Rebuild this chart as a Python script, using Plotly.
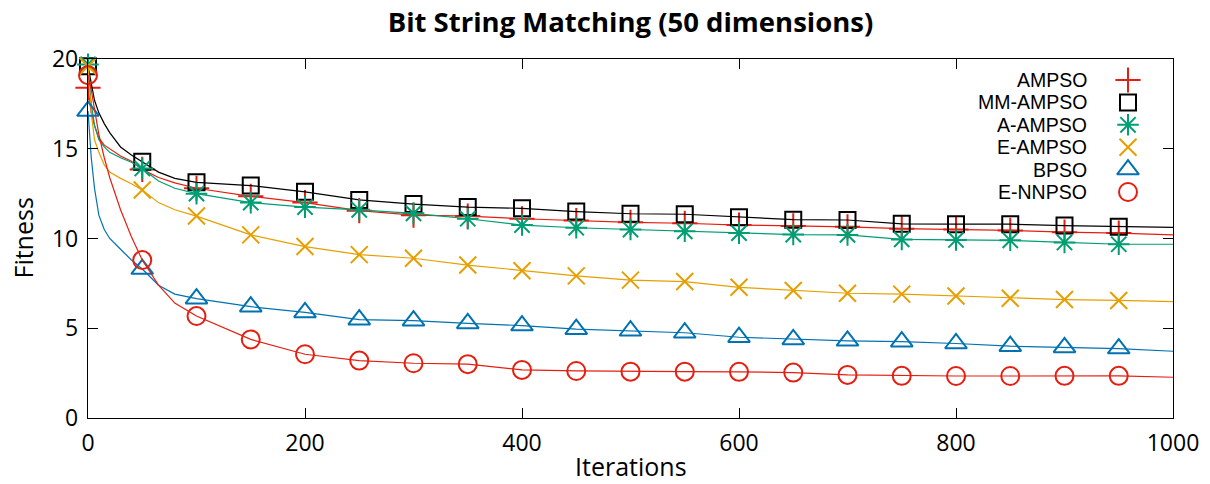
import plotly.graph_objects as go

# Iterations at which the averaged fitness was recorded
iterations = [0, 3, 6, 10, 15, 20, 30, 40, 50, 65, 80, 100, 150, 200, 250, 300,
              350, 400, 450, 500, 550, 600, 650, 700, 750, 800, 850, 900, 950, 1000]

ampso = [18.4, 17.0, 16.3, 15.6, 15.2, 15.0, 14.6, 14.3, 13.85, 13.4, 13.1, 12.8,
         12.35, 12.0, 11.55, 11.3, 11.25, 11.1, 11.0, 10.9, 10.85, 10.75, 10.7,
         10.65, 10.55, 10.5, 10.45, 10.35, 10.3, 10.2]
mm_ampso = [19.6, 18.6, 17.7, 17.0, 16.4, 15.9, 15.1, 14.65, 14.28, 13.7, 13.35, 13.13,
            12.95, 12.6, 12.15, 11.92, 11.75, 11.68, 11.5, 11.38, 11.35, 11.18, 11.05,
            11.03, 10.82, 10.8, 10.8, 10.72, 10.66, 10.62]
a_ampso = [19.7, 17.5, 16.3, 15.5, 15.1, 14.8, 14.5, 14.25, 13.9, 13.2, 12.8, 12.5,
           12.0, 11.75, 11.6, 11.4, 11.1, 10.75, 10.6, 10.5, 10.4, 10.3, 10.22,
           10.2, 9.95, 9.92, 9.9, 9.78, 9.68, 9.68]
e_ampso = [19.6, 17.0, 15.5, 14.8, 14.1, 13.7, 13.35, 13.05, 12.7, 12.0, 11.6, 11.25,
           10.2, 9.55, 9.1, 8.9, 8.52, 8.2, 7.92, 7.68, 7.6, 7.28, 7.1, 6.95, 6.9,
           6.8, 6.67, 6.6, 6.55, 6.48]
bpso = [17.1, 14.5, 12.8, 11.3, 10.5, 10.0, 9.4, 8.8, 8.3, 7.4, 6.9, 6.65, 6.2, 5.88,
        5.48, 5.42, 5.27, 5.15, 4.95, 4.86, 4.75, 4.5, 4.38, 4.3, 4.25, 4.15, 4.0,
        3.93, 3.87, 3.72]
e_nnpso = [19.1, 18.3, 17.2, 15.8, 14.5, 13.4, 11.6, 10.1, 8.8, 7.4, 6.4, 5.68, 4.38,
           3.55, 3.2, 3.05, 3.0, 2.68, 2.62, 2.58, 2.58, 2.57, 2.53, 2.4, 2.35, 2.34,
           2.34, 2.35, 2.35, 2.27]

series = [
    ("AMPSO", ampso, "#e51e10", "cross-thin-open", 18),
    ("MM-AMPSO", mm_ampso, "#000000", "square-open", 16),
    ("A-AMPSO", a_ampso, "#009e73", "asterisk-open", 18),
    ("E-AMPSO", e_ampso, "#e69f00", "x-thin-open", 17),
    ("BPSO", bpso, "#0072b2", "triangle-up-open", 19),
    ("E-NNPSO", e_nnpso, "#e51e10", "circle-open", 18),
]

W, H = 1210, 484
ML, MR, MT, MB = 88, 37, 59, 66
PW, PH = W - ML - MR, H - MT - MB

FONT = "Open Sans, DejaVu Sans, sans-serif"
KEY_FONT = "Liberation Sans, Arial, sans-serif"

fig = go.Figure()

# markers every 50 iterations, lines through every recorded point
for name, vals, color, symbol, size in series:
    fig.add_trace(go.Scatter(
        x=iterations, y=vals, mode="lines",
        line=dict(color=color, width=1.2), showlegend=False, hoverinfo="skip",
    ))
    mx = [it for it in iterations if it % 50 == 0 and it < 1000]
    my = [v for it, v in zip(iterations, vals) if it % 50 == 0 and it < 1000]
    fig.add_trace(go.Scatter(
        x=mx, y=my, mode="markers", name=name, showlegend=False,
        marker=dict(symbol=symbol, size=size, color=color,
                    line=dict(color=color, width=2)),
        cliponaxis=False,
    ))

# key: label text right-aligned, symbol to its right (overlay axes in 0..1 units)
key_top_px, key_step_px = 80, 22.4
key_text_x = (1088 - ML) / PW
key_sym_x = (1128 - ML) / PW
for i, (name, vals, color, symbol, size) in enumerate(series):
    yk = 1 - (key_top_px + i * key_step_px - MT) / PH
    fig.add_trace(go.Scatter(
        x=[key_sym_x], y=[yk], mode="markers", xaxis="x2", yaxis="y2",
        showlegend=False, hoverinfo="skip",
        marker=dict(symbol=symbol, size=size, color=color,
                    line=dict(color=color, width=2)),
        cliponaxis=False,
    ))
    fig.add_annotation(x=key_text_x, y=yk, xref="paper", yref="paper",
                       text=name, showarrow=False, xanchor="right",
                       yanchor="middle", borderpad=0,
                       font=dict(family=KEY_FONT, size=19.5, color="black"))

axis_common = dict(
    showgrid=False, zeroline=False, showline=True, linecolor="black", linewidth=1.3,
    mirror="allticks", ticks="inside", ticklen=10, tickwidth=1.2, tickcolor="black",
    tickfont=dict(family=FONT, size=23, color="black"),
)

fig.update_layout(
    width=W, height=H,
    margin=dict(l=ML, r=MR, t=MT, b=MB),
    paper_bgcolor="white", plot_bgcolor="white",
    title=dict(text="<b>Bit String Matching (50 dimensions)</b>",
               x=(ML + PW / 2) / W, xanchor="center",
               y=1 - 22 / H, yanchor="middle", yref="container",
               font=dict(family=FONT, size=27.5, color="black")),
    xaxis=dict(range=[0, 1000], tickvals=[0, 200, 400, 600, 800, 1000],
               ticklabelstandoff=4, **axis_common),
    yaxis=dict(range=[0, 20], tickvals=[0, 5, 10, 15, 20],
               ticklabelstandoff=4, **axis_common),
    xaxis2=dict(range=[0, 1], overlaying="x", visible=False, fixedrange=True),
    yaxis2=dict(range=[0, 1], overlaying="y", visible=False, fixedrange=True),
    showlegend=False,
)

fig.add_annotation(text="Iterations", x=0.5, y=-(466 - 418) / PH, xref="paper",
                   yref="paper", showarrow=False, xanchor="center", yanchor="middle",
                   font=dict(family=FONT, size=25, color="black"))
fig.add_annotation(text="Fitness", x=-(88 - 22) / PW, y=0.5, xref="paper",
                   yref="paper", showarrow=False, xanchor="center", yanchor="middle",
                   textangle=-90, font=dict(family=FONT, size=25, color="black"))

fig.write_html("out.html")
